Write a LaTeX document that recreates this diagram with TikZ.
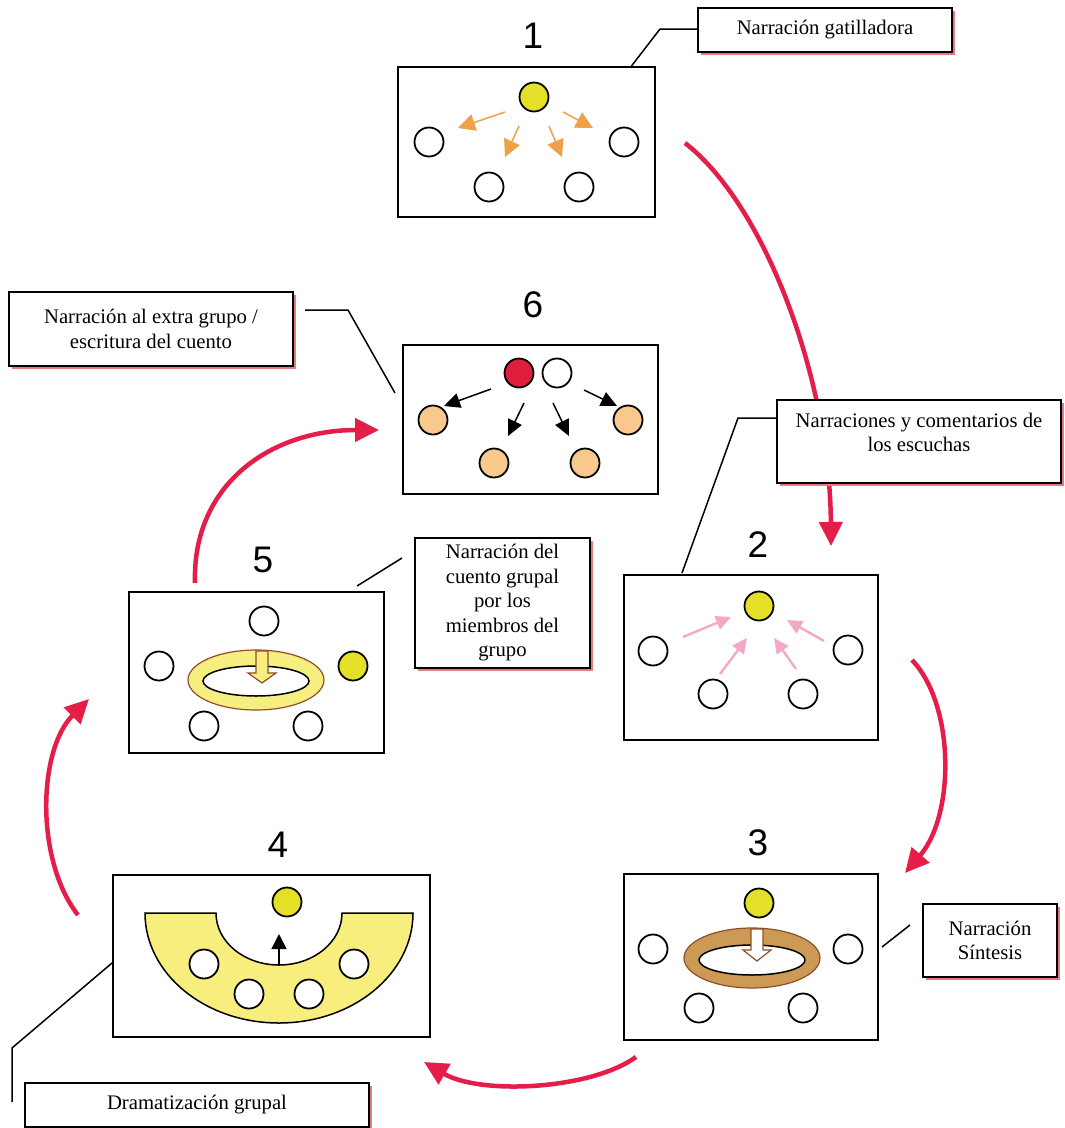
\documentclass[tikz,border=0pt]{standalone}
\usepackage{fontspec}
\setmainfont{Liberation Serif}
\newfontfamily\numfont{Liberation Sans}
\usetikzlibrary{arrows.meta,shapes.geometric,shadows}

\definecolor{redarrow}{RGB}{228,30,72}
\definecolor{ylw}{RGB}{228,224,40}
\definecolor{peach}{RGB}{248,200,140}
\definecolor{redc}{RGB}{222,30,60}
\definecolor{orangea}{RGB}{240,160,70}
\definecolor{pinka}{RGB}{244,168,200}
\definecolor{ringbrown}{RGB}{204,154,85}
\definecolor{ringedge}{RGB}{140,80,40}
\definecolor{ringylw}{RGB}{246,238,128}
\definecolor{annulus}{RGB}{248,238,125}
\definecolor{shadowred}{RGB}{232,120,130}

\begin{document}
\begin{tikzpicture}[x=1pt,y=-1pt,
 panel/.style={draw, line width=2pt, rectangle, inner sep=0pt},
 disc/.style={circle, draw, line width=1.8pt, minimum size=29pt, inner sep=0pt, fill=white},
 ydisc/.style={disc, fill=ylw},
 pdisc/.style={disc, fill=peach},
 rdisc/.style={disc, fill=redc},
 lbox/.style={draw, line width=1.8pt, fill=white, inner sep=0pt,
   general shadow={fill=shadowred, shadow xshift=3pt, shadow yshift=-3pt},
   font=\fontsize{20.7}{24.5}\selectfont, align=center},
 ltext/.style={font=\fontsize{20.7}{24.5}\selectfont, align=center, inner sep=0pt},
 num/.style={font=\numfont\fontsize{37}{40}\selectfont, inner sep=0pt},
 flow/.style={draw=redarrow, line width=4.5pt, -{Triangle[length=24pt,width=23pt]}},
 leader/.style={draw, line width=1.5pt},
 oarr/.style={draw=orangea, line width=1.5pt, -{Triangle[length=17pt,width=17pt]}},
 parr/.style={draw=pinka, line width=2.4pt, -{Triangle[length=15pt,width=14pt]}},
 barr/.style={draw=black, line width=1.5pt, -{Triangle[length=16pt,width=15pt]}},
 outring/.style={ellipse, draw=ringedge, line width=1.2pt, minimum width=136pt, minimum height=60pt, inner sep=0pt},
 inring/.style={ellipse, draw=black, line width=1.5pt, fill=white, minimum width=106pt, minimum height=30pt, inner sep=0pt},
]
\fill[white] (0,0) rectangle (1065,1128);
\useasboundingbox (0,0) rectangle (1065,1128);

% ---------- numbers
\node[num] (n1) at (533,36) {1};
\node[num] (n6) at (533,305) {6};
\node[num] (n2) at (758,545) {2};
\node[num] (n3) at (758,843) {3};
\node[num] (n4) at (278,845) {4};
\node[num] (n5) at (263,560) {5};

% ---------- panel 1
\node[panel, minimum width=257pt, minimum height=150pt] (p1) at (526.5,142) {};
\node[ydisc] (y1) at (534,97) {};
\node[disc] (a1) at (429,142) {};
\node[disc] (b1) at (624,142) {};
\node[disc] (c1) at (489,187) {};
\node[disc] (d1) at (579,187) {};
\coordinate (o1s) at (505,112); \coordinate (o1e) at (458,128);
\coordinate (o2s) at (563,112); \coordinate (o2e) at (593,128);
\coordinate (o3s) at (519,126); \coordinate (o3e) at (505,157);
\coordinate (o4s) at (549,126); \coordinate (o4e) at (562,157);
\draw[oarr] (o1s) -- (o1e);
\draw[oarr] (o2s) -- (o2e);
\draw[oarr] (o3s) -- (o3e);
\draw[oarr] (o4s) -- (o4e);

% ---------- panel 6
\node[panel, minimum width=255pt, minimum height=149pt] (p6) at (530.5,419.5) {};
\node[rdisc] (r6) at (519,373) {};
\node[disc] (w6) at (557,373) {};
\node[pdisc] (a6) at (433,420) {};
\node[pdisc] (b6) at (628,420) {};
\node[pdisc] (c6) at (494,463) {};
\node[pdisc] (d6) at (585,463) {};
\coordinate (k61s) at (491,389); \coordinate (k61e) at (444,406);
\coordinate (k62s) at (524,403); \coordinate (k62e) at (508,436);
\coordinate (k63s) at (553,403); \coordinate (k63e) at (569,436);
\coordinate (k64s) at (584,390); \coordinate (k64e) at (617,406);
\draw[barr] (k61s) -- (k61e);
\draw[barr] (k62s) -- (k62e);
\draw[barr] (k63s) -- (k63e);
\draw[barr] (k64s) -- (k64e);

% ---------- panel 2
\node[panel, minimum width=254pt, minimum height=165pt] (p2) at (751,657.5) {};
\node[ydisc] (y2) at (759,606) {};
\node[disc] (a2) at (653,651) {};
\node[disc] (b2) at (848,650) {};
\node[disc] (c2) at (713,694) {};
\node[disc] (d2) at (803,694) {};
\coordinate (q1s) at (683,637); \coordinate (q1e) at (731,617);
\coordinate (q2s) at (720,674); \coordinate (q2e) at (747,638);
\coordinate (q3s) at (796,669); \coordinate (q3e) at (774,638);
\coordinate (q4s) at (824,641); \coordinate (q4e) at (787,620);
\draw[parr] (q1s) -- (q1e);
\draw[parr] (q2s) -- (q2e);
\draw[parr] (q3s) -- (q3e);
\draw[parr] (q4s) -- (q4e);

% ---------- panel 3
\node[panel, minimum width=254pt, minimum height=166pt] (p3) at (751,957) {};
\node[ydisc] (y3) at (759,903) {};
\node[outring, fill=ringbrown] (ro3) at (752,958) {};
\node[inring] (ri3) at (752,960) {};
\draw[draw=ringedge, line width=1.2pt, fill=white]
  (751,929) -- (763,929) -- (763,950) -- (771,950) -- (757,961) -- (743,950) -- (751,950) -- cycle;
\node[disc] (a3) at (653,949) {};
\node[disc] (b3) at (848,949) {};
\node[disc] (c3) at (699,1008) {};
\node[disc] (d3) at (803,1008) {};

% ---------- panel 4
\node[panel, minimum width=317pt, minimum height=162pt] (p4) at (271.5,956) {};
\draw[line width=1.5pt, fill=annulus]
  (145,913) -- (216,913) arc[start angle=180, end angle=360, x radius=63pt, y radius=52pt]
  -- (413,913) arc[start angle=0, end angle=-180, x radius=134pt, y radius=110pt] -- cycle;
\node[ydisc] (y4) at (287,902) {};
\node[disc] (a4) at (204,964) {};
\node[disc] (b4) at (249,994) {};
\node[disc] (c4) at (309,994) {};
\node[disc] (d4) at (354,964) {};
\coordinate (u4s) at (279,965); \coordinate (u4e) at (279,934);
\draw[draw=black, line width=1.5pt, -{Triangle[length=15pt,width=15pt]}] (u4s) -- (u4e);

% ---------- panel 5
\node[panel, minimum width=255pt, minimum height=161pt] (p5) at (256.5,672.5) {};
\node[disc] (t5) at (264,621) {};
\node[disc] (a5) at (159,666) {};
\node[ydisc] (y5) at (353,666) {};
\node[disc] (c5) at (204,726) {};
\node[disc] (d5) at (308,726) {};
\node[outring, fill=ringylw] (ro5) at (256,680) {};
\node[inring] (ri5) at (256,681) {};
\draw[draw=ringedge, line width=1.2pt, fill=ringylw]
  (256,651) -- (268,651) -- (268,673) -- (276,673) -- (262,683) -- (248,673) -- (256,673) -- cycle;

% ---------- red flow arrows
\coordinate (f1s) at (685,143); \coordinate (f1e) at (831,546);
\coordinate (f2s) at (912,660); \coordinate (f2e) at (905,873);
\coordinate (f3s) at (636,1057); \coordinate (f3e) at (424,1062);
\coordinate (f4s) at (78,915); \coordinate (f4e) at (89,699);
\coordinate (f5s) at (195,583); \coordinate (f5e) at (379,430);
\draw[flow] (f1s) .. controls (765,205) and (830,380) .. (f1e);
\draw[flow] (f2s) .. controls (955,705) and (955,815) .. (f2e);
\draw[flow] (f3s) .. controls (590,1090) and (480,1095) .. (f3e);
\draw[flow] (f4s) .. controls (35,860) and (38,750) .. (f4e);
\draw[flow] (f5s) .. controls (192,485) and (270,430) .. (f5e);

% ---------- label boxes
\node[lbox, minimum width=254pt, minimum height=44pt] (lg1) at (825,30) {Narración gatilladora};
\node[lbox, minimum width=284pt, minimum height=74pt] (lg6) at (151,329) {Narración al extra grupo /\\escritura del cuento};
\node[lbox, minimum width=284pt, minimum height=83pt] (lg2) at (919,441.5) {};
\node[ltext] (lg2t) at ([yshift=9pt]lg2.center) {Narraciones y comentarios de\\los escuchas};
\node[lbox, minimum width=175pt, minimum height=130pt] (lg5) at (502.5,603) {Narración del\\cuento grupal\\por los\\miembros del\\grupo};
\node[lbox, minimum width=134pt, minimum height=73pt] (lg3) at (990,940.5) {Narración\\Síntesis};
\node[lbox, minimum width=344pt, minimum height=44pt] (lg4) at (197,1105) {Dramatización grupal};

% ---------- leader lines
\coordinate (k1) at (660,29);
\draw[leader] ([xshift=-24.5pt]p1.north east) -- (k1) -- ([yshift=1pt]lg1.west);
\coordinate (k6a) at (305,310); \coordinate (k6b) at (348,310); \coordinate (k6c) at (395,393);
\draw[leader] (k6a) -- (k6b) -- (k6c);
\coordinate (k2a) at (738,418); \coordinate (k2b) at (682,573);
\draw[leader] ([yshift=23.5pt]lg2.west) -- (k2a) -- (k2b);
\coordinate (k5a) at (357,586); \coordinate (k5b) at (402,558);
\draw[leader] (k5a) -- (k5b);
\coordinate (k3a) at (882,947); \coordinate (k3b) at (910,925);
\draw[leader] (k3a) -- (k3b);
\coordinate (k4a) at (112,963); \coordinate (k4b) at (12,1048); \coordinate (k4c) at (12,1102);
\draw[leader] (k4a) -- (k4b) -- (k4c);
\end{tikzpicture}
\end{document}
